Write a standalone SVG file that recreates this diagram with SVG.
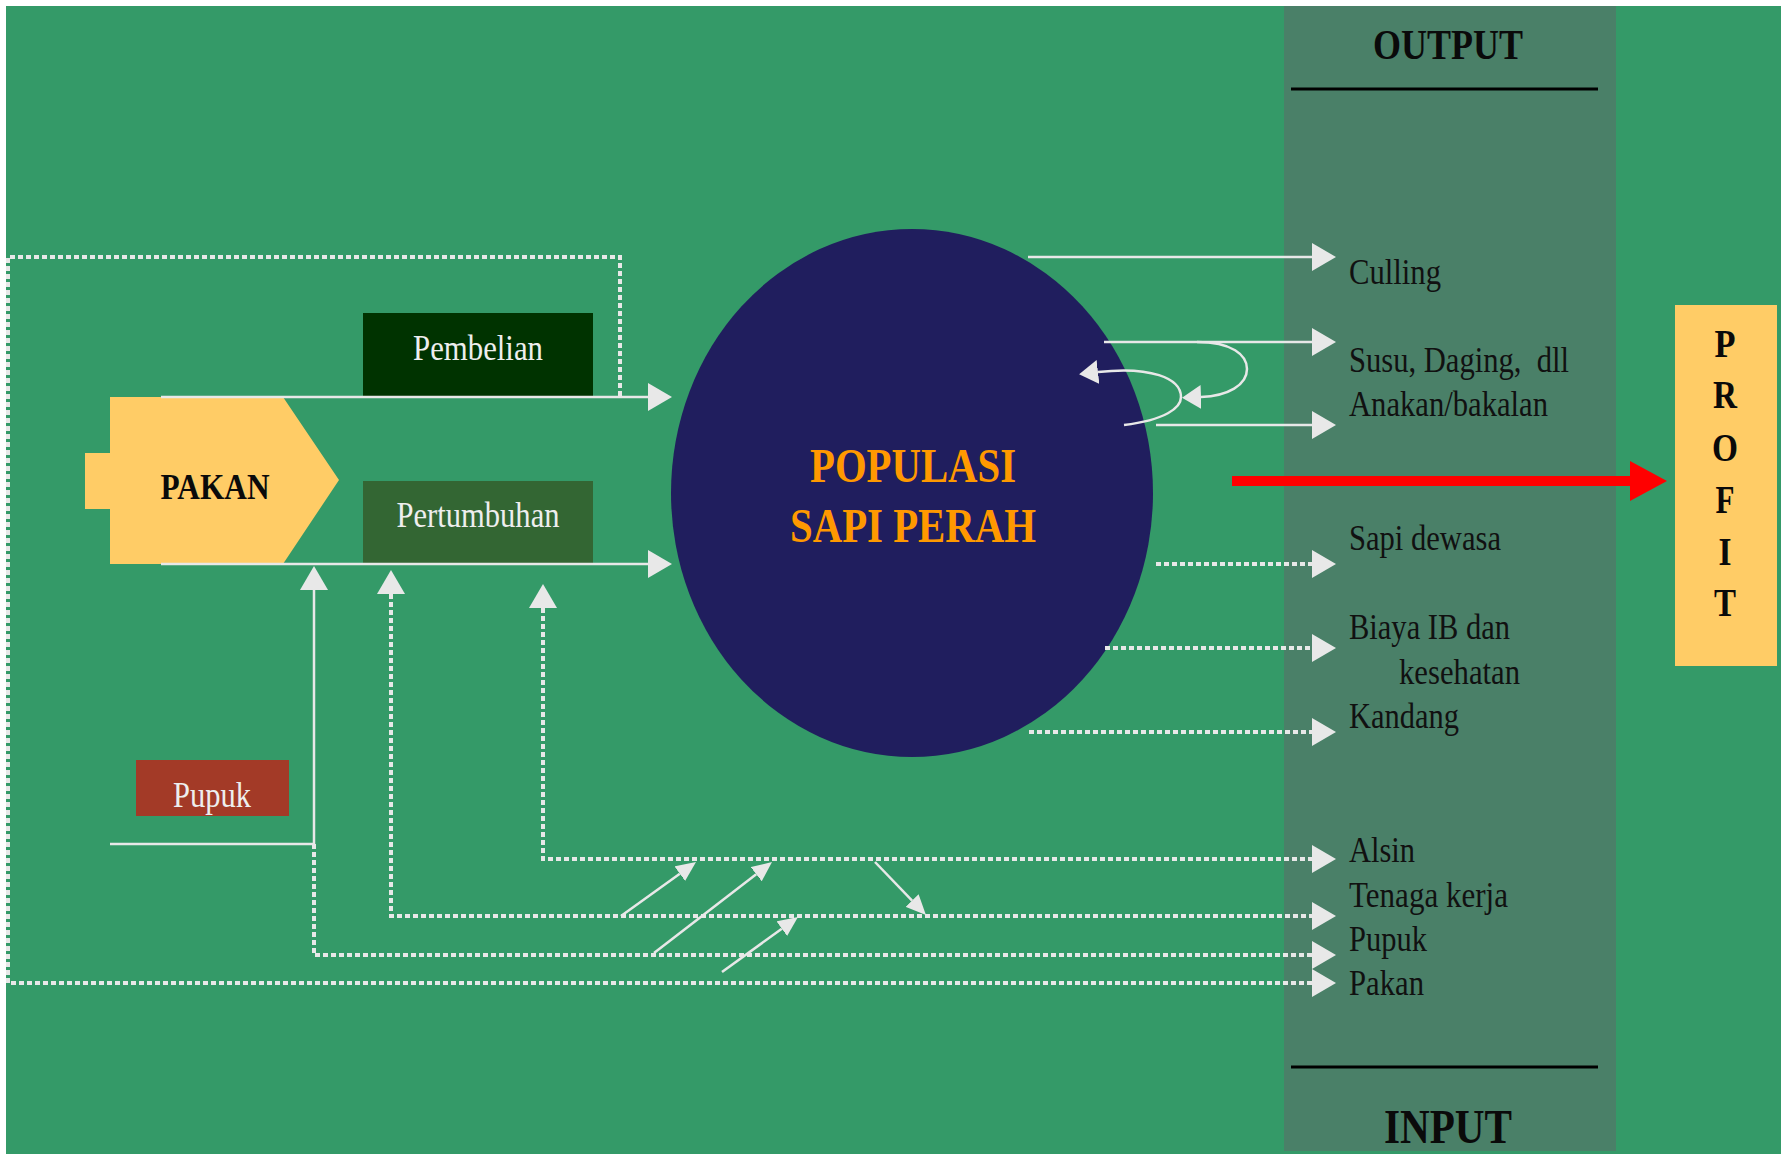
<svg xmlns="http://www.w3.org/2000/svg" width="1790" height="1154" viewBox="0 0 1790 1154">
  <style>
    .lbl{font-family:"Liberation Serif","Times New Roman",serif;font-size:36px;fill:#111111}
    .boxt{font-family:"Liberation Serif","Times New Roman",serif;font-size:36px;fill:#eeeeee;text-anchor:middle}
    .head{font-family:"Liberation Serif","Times New Roman",serif;font-weight:bold;fill:#0a0a0a;text-anchor:middle}
    .solid{fill:none;stroke:#e8e8e8;stroke-width:2.5}
    .dot{fill:none;stroke:#e8e8e8;stroke-width:4;stroke-dasharray:5 3}
    .rule{stroke:#000000;stroke-width:3}
  </style>
  <defs>
    <marker id="ah" markerUnits="userSpaceOnUse" markerWidth="24" markerHeight="28" viewBox="0 0 24 28" refX="0" refY="14" orient="auto-start-reverse">
      <path d="M0,0 L24,14 L0,28 Z" fill="#e8e8e8"/>
    </marker>
    <marker id="ahm" markerUnits="userSpaceOnUse" markerWidth="19" markerHeight="24" viewBox="0 0 19 24" refX="0" refY="12" orient="auto">
      <path d="M0,0 L19,12 L0,24 Z" fill="#e8e8e8"/>
    </marker>
    <marker id="ahs" markerUnits="userSpaceOnUse" markerWidth="20" markerHeight="18" viewBox="0 0 20 18" refX="0" refY="9" orient="auto">
      <path d="M0,0 L20,9 L0,18 Z" fill="#e8e8e8"/>
    </marker>
  </defs>

  <!-- backdrop and output/input band -->
  <rect x="0" y="0" width="1790" height="1154" fill="#ffffff"/>
  <rect x="6" y="6" width="1775" height="1148" fill="#349a68"/>
  <rect id="band" x="1284" y="6" width="332" height="1145" fill="#4a8068"/>
  <g id="band-heads">
    <text class="head" x="1448" y="59" font-size="43" textLength="150" lengthAdjust="spacingAndGlyphs">OUTPUT</text>
    <line class="rule" x1="1291" y1="89" x2="1598" y2="89"/>
    <line class="rule" x1="1291" y1="1067" x2="1598" y2="1067"/>
    <text class="head" x="1448" y="1143" font-size="48" textLength="128" lengthAdjust="spacingAndGlyphs">INPUT</text>
  </g>

  <!-- nodes -->
  <g id="pakan">
    <polygon points="110,397 283,397 339,480 283,564 110,564 110,509 85,509 85,453 110,453" fill="#ffcc66"/>
    <text class="head" x="215" y="499" font-size="36" textLength="109" lengthAdjust="spacingAndGlyphs">PAKAN</text>
  </g>
  <g id="pembelian">
    <rect x="363" y="313" width="230" height="83" fill="#003300"/>
    <text class="boxt" x="478" y="360" textLength="130" lengthAdjust="spacingAndGlyphs">Pembelian</text>
  </g>
  <g id="pertumbuhan">
    <rect x="363" y="481" width="230" height="82" fill="#336633"/>
    <text class="boxt" x="478" y="527" textLength="163" lengthAdjust="spacingAndGlyphs">Pertumbuhan</text>
  </g>
  <g id="pupuk">
    <rect x="136" y="760" width="153" height="56" fill="#a33a27"/>
    <text class="boxt" x="212" y="807" textLength="78" lengthAdjust="spacingAndGlyphs">Pupuk</text>
  </g>
  <g id="populasi">
    <ellipse cx="912" cy="493" rx="241" ry="264" fill="#201e5e"/>
    <text class="head" x="913" y="482" font-size="48" style="fill:#ff9900" textLength="206" lengthAdjust="spacingAndGlyphs">POPULASI</text>
    <text class="head" x="913" y="542" font-size="48" style="fill:#ff9900" textLength="246" lengthAdjust="spacingAndGlyphs">SAPI PERAH</text>
  </g>
  <g id="profit">
    <rect x="1675" y="305" width="102" height="361" fill="#ffcc66"/>
    <text class="head" x="1725" y="357" font-size="40" textLength="21" lengthAdjust="spacingAndGlyphs">P</text>
    <text class="head" x="1725" y="408" font-size="40" textLength="24" lengthAdjust="spacingAndGlyphs">R</text>
    <text class="head" x="1725" y="461" font-size="40" textLength="26" lengthAdjust="spacingAndGlyphs">O</text>
    <text class="head" x="1725" y="513" font-size="40" textLength="19" lengthAdjust="spacingAndGlyphs">F</text>
    <text class="head" x="1725" y="565" font-size="40" textLength="13" lengthAdjust="spacingAndGlyphs">I</text>
    <text class="head" x="1725" y="616" font-size="40" textLength="22" lengthAdjust="spacingAndGlyphs">T</text>
  </g>

  <!-- connectors, drawn over the nodes -->
  <g id="connectors">
    <!-- feed paths into the population -->
    <path class="solid" d="M161,397 H648" marker-end="url(#ah)"/>
    <path class="solid" d="M161,564 H648" marker-end="url(#ah)"/>
    <!-- outputs -->
    <path class="solid" d="M1028,257 H1312" marker-end="url(#ah)"/>
    <path class="solid" d="M1104,342 H1312" marker-end="url(#ah)"/>
    <path class="solid" d="M1156,425 H1312" marker-end="url(#ah)"/>
    <path class="solid" d="M1197,342 C1232,342 1247,355 1247,369 C1247,385 1228,396 1201,397" marker-end="url(#ahm)"/>
    <path class="solid" d="M1124,425 C1165,420 1181,408 1181,397 C1181,378 1150,366 1098,372" marker-end="url(#ahm)"/>
    <!-- costs -->
    <path class="dot" d="M1156,564 H1312" marker-end="url(#ah)"/>
    <path class="dot" d="M1105,648 H1312" marker-end="url(#ah)"/>
    <path class="dot" d="M1029,732 H1312" marker-end="url(#ah)"/>
    <!-- inputs looping back -->
    <path class="dot" d="M543,608 V859 H1312" marker-start="url(#ah)" marker-end="url(#ah)"/>
    <path class="dot" d="M391,594 V916 H1312" marker-start="url(#ah)" marker-end="url(#ah)"/>
    <path class="dot" d="M314,844 V955 H1312" marker-end="url(#ah)"/>
    <path class="solid" d="M110,844 H314 V590" marker-end="url(#ah)"/>
    <path class="dot" d="M620,396 V257 H8 V983 H1312" marker-end="url(#ah)"/>
    <!-- cross links between input lines -->
    <path class="solid" d="M621,916 L679.8,873.7" marker-end="url(#ahs)"/>
    <path class="solid" d="M654,953 L756.2,874.2" marker-end="url(#ahs)"/>
    <path class="solid" d="M722,972 L781.8,928.7" marker-end="url(#ahs)"/>
    <path class="solid" d="M875,862 L912.1,900.6" marker-end="url(#ahs)"/>
    <!-- profit -->
    <line x1="1232" y1="481" x2="1632" y2="481" stroke="#ff0000" stroke-width="10"/>
    <polygon points="1630,461 1667,481 1630,501" fill="#ff0000"/>
  </g>

  <!-- band labels -->
  <g id="labels">
    <text class="lbl" x="1349" y="284" textLength="92" lengthAdjust="spacingAndGlyphs">Culling</text>
    <text class="lbl" x="1349" y="372" xml:space="preserve" textLength="220" lengthAdjust="spacingAndGlyphs">Susu, Daging,  dll</text>
    <text class="lbl" x="1349" y="416" textLength="199" lengthAdjust="spacingAndGlyphs">Anakan/bakalan</text>
    <text class="lbl" x="1349" y="550" textLength="152" lengthAdjust="spacingAndGlyphs">Sapi dewasa</text>
    <text class="lbl" x="1349" y="639" textLength="161" lengthAdjust="spacingAndGlyphs">Biaya IB dan</text>
    <text class="lbl" x="1399" y="684" textLength="121" lengthAdjust="spacingAndGlyphs">kesehatan</text>
    <text class="lbl" x="1349" y="728" textLength="110" lengthAdjust="spacingAndGlyphs">Kandang</text>
    <text class="lbl" x="1349" y="862" textLength="66" lengthAdjust="spacingAndGlyphs">Alsin</text>
    <text class="lbl" x="1349" y="907" textLength="159" lengthAdjust="spacingAndGlyphs">Tenaga kerja</text>
    <text class="lbl" x="1349" y="951" textLength="78" lengthAdjust="spacingAndGlyphs">Pupuk</text>
    <text class="lbl" x="1349" y="995" textLength="75" lengthAdjust="spacingAndGlyphs">Pakan</text>
  </g>
</svg>
